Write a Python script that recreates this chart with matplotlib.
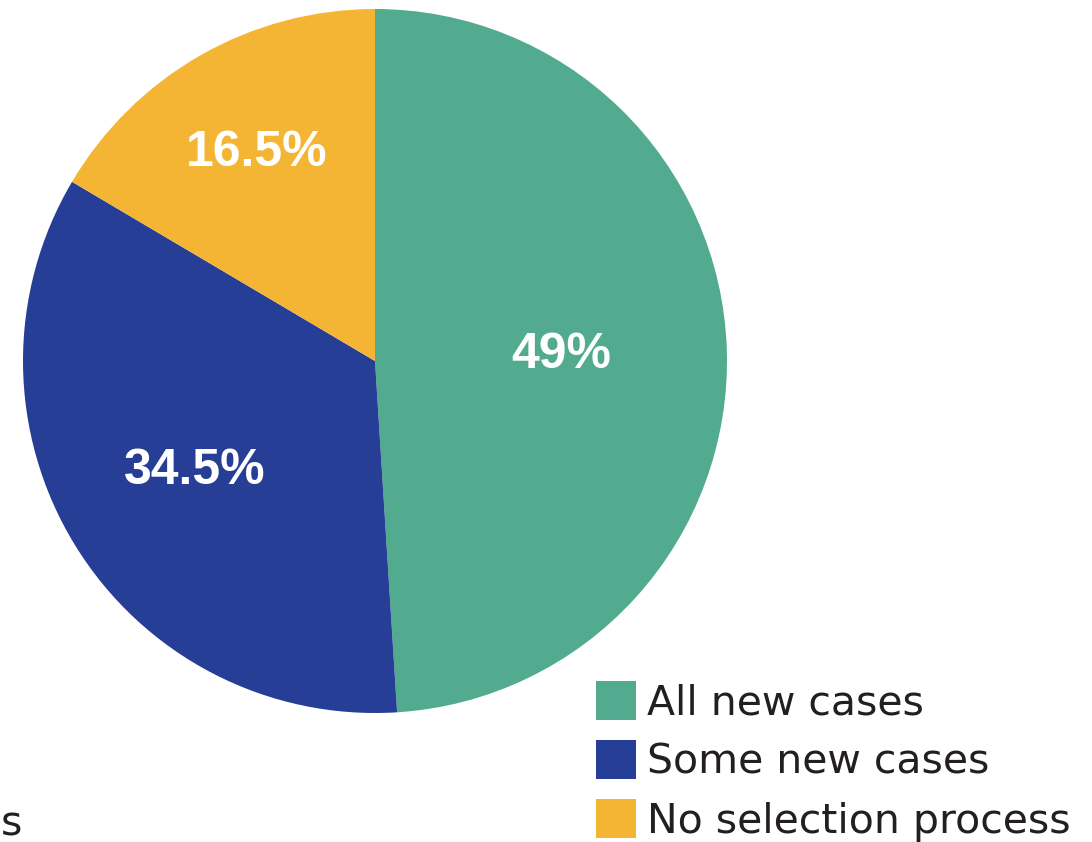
import numpy as np
import matplotlib
matplotlib.use("Agg")
import matplotlib.pyplot as plt
from matplotlib.patches import Patch

# data
labels = ["All new cases", "Some new cases", "No selection process"]
shares = [49, 34.5, 16.5]
pct_text = ["49%", "34.5%", "16.5%"]
colors = ["#52AB8F", "#263E96", "#F5B534"]

# where each % label sits, as a fraction of the radius
label_dist = [0.53, 0.60, 0.68]

plt.rcParams["font.family"] = ["Liberation Sans", "DejaVu Sans"]

W, H = 1092, 842
fig = plt.figure(figsize=(W / 100, H / 100), dpi=100)

# pie centred at (375, 361) px, radius 352 px
cx, cy, r = 375, 361, 352
ax = fig.add_axes([(cx - r) / W, (H - cy - r) / H, 2 * r / W, 2 * r / H])

wedges, _ = ax.pie(shares, colors=colors, startangle=90, counterclock=False,
                   wedgeprops=dict(linewidth=0))
ax.set_xlim(-1, 1)
ax.set_ylim(-1, 1)
ax.set_aspect("equal")
ax.axis("off")

for w, txt, d in zip(wedges, pct_text, label_dist):
    ang = np.deg2rad((w.theta1 + w.theta2) / 2)
    ax.text(d * np.cos(ang), d * np.sin(ang), txt, color="white",
            fontsize=36, fontweight="bold", ha="center", va="center")

handles = [Patch(facecolor=c, edgecolor="none") for c in colors]
fig.legend(handles, labels, loc="upper left",
           bbox_to_anchor=(596 / W, 1 - 681 / H),
           frameon=False, borderpad=0, borderaxespad=0,
           handlelength=0.98, handleheight=1.08, handletextpad=0.27,
           labelspacing=0.41, labelcolor="#231F20",
           prop={"family": "DejaVu Sans", "size": 29.5})

# cut-off text from the neighbouring legend
fig.text(22 / W, 1 - 835 / H, "s", ha="right", va="baseline",
         fontsize=29.5, color="#231F20", family="DejaVu Sans")

fig.savefig("out.png", dpi=100)
